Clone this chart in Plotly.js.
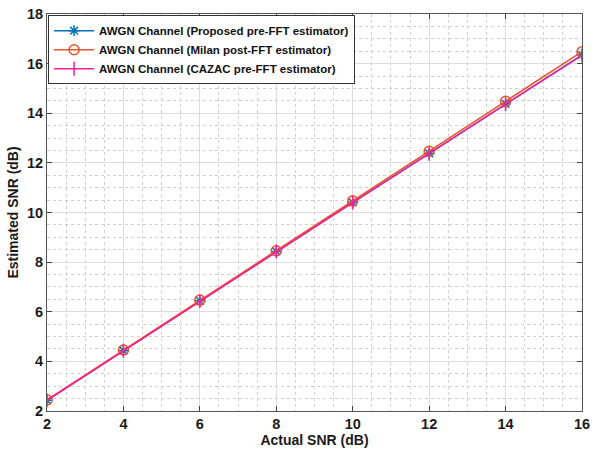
<!DOCTYPE html>
<html><head><meta charset="utf-8">
<script src="https://cdn.plot.ly/plotly-3.0.1.min.js"></script>
<style>html,body{margin:0;padding:0;background:#fff}#chart{width:592px;height:450px}</style>
</head><body><div id="chart"></div>
<script>
const actualSNR = [2, 4, 6, 8, 10, 12, 14, 16];
const proposedPreFFT = [2.43, 4.43, 6.44, 8.43, 10.41, 12.38, 14.38, 16.35];
const milanPostFFT = [2.45, 4.46, 6.47, 8.46, 10.47, 12.47, 14.48, 16.48];
const cazacPreFFT = [2.43, 4.43, 6.43, 8.43, 10.40, 12.37, 14.37, 16.33];
const seriesNames = [
  'AWGN Channel (Proposed pre-FFT estimator)',
  'AWGN Channel (Milan post-FFT estimator)',
  'AWGN Channel (CAZAC pre-FFT estimator)'
];
const xTicks = [2, 4, 6, 8, 10, 12, 14, 16];
const yTicks = [2, 4, 6, 8, 10, 12, 14, 16, 18];

const fam = 'Liberation Sans, Arial, sans-serif';
const font = {family: fam, size: 13, color: '#222'};
const traces = [
  {x: actualSNR, y: proposedPreFFT, name: seriesNames[0], mode: 'lines+markers',
   line: {color: '#0072BD', width: 1.5},
   marker: {symbol: 'asterisk-open', size: 9, color: '#0072BD', line: {color: '#0072BD', width: 1.5}}},
  {x: actualSNR, y: milanPostFFT, name: seriesNames[1], mode: 'lines+markers',
   line: {color: '#E8542A', width: 1.5},
   marker: {symbol: 'circle-open', size: 10, color: '#E8542A', line: {color: '#E8542A', width: 1.5}}},
  {x: actualSNR, y: cazacPreFFT, name: seriesNames[2], mode: 'lines+markers',
   line: {color: '#FF1C9A', width: 1.5},
   marker: {symbol: 'line-ns-open', size: 10, color: '#FF1C9A', line: {color: '#FF1C9A', width: 1.5}}}
];
const axisCommon = {
  showline: true, mirror: 'ticks', linecolor: '#555', linewidth: 1,
  ticks: 'inside', ticklen: 5, tickcolor: '#444',
  showgrid: true, gridcolor: '#dcdcdc', gridwidth: 1, zeroline: false,
  tickfont: {family: fam, size: 14.5, color: '#1a1a1a', weight: 'bold'}
};
const layout = {
  width: 592, height: 450,
  margin: {l: 47, r: 10, t: 14, b: 39},
  paper_bgcolor: '#fff', plot_bgcolor: '#fff',
  font: font,
  showlegend: true,
  legend: {x: 0.002, y: 0.997, xanchor: 'left', yanchor: 'top',
    bgcolor: '#fff', bordercolor: '#333', borderwidth: 1,
    font: {family: fam, size: 11.5, color: '#111', weight: 'bold'},
    tracegroupgap: 0, itemwidth: 40},
  xaxis: Object.assign({}, axisCommon, {
    range: [2, 16], tickvals: xTicks, ticktext: xTicks.map(String),
    minor: {dtick: 0.5, showgrid: true, griddash: 'dot', gridcolor: '#d0d0d0', gridwidth: 1},
    title: {text: 'Actual SNR (dB)', standoff: 3, font: {family: fam, size: 14, color: '#1a1a1a', weight: 'bold'}}
  }),
  yaxis: Object.assign({}, axisCommon, {
    range: [2, 18], tickvals: yTicks, ticktext: yTicks.map(String),
    minor: {dtick: 0.5, showgrid: true, griddash: 'dot', gridcolor: '#d0d0d0', gridwidth: 1},
    title: {text: 'Estimated SNR (dB)', standoff: 5, font: {family: fam, size: 14, color: '#1a1a1a', weight: 'bold'}}
  })
};
Plotly.newPlot('chart', traces, layout, {displayModeBar: false, staticPlot: true});
</script></body></html>
